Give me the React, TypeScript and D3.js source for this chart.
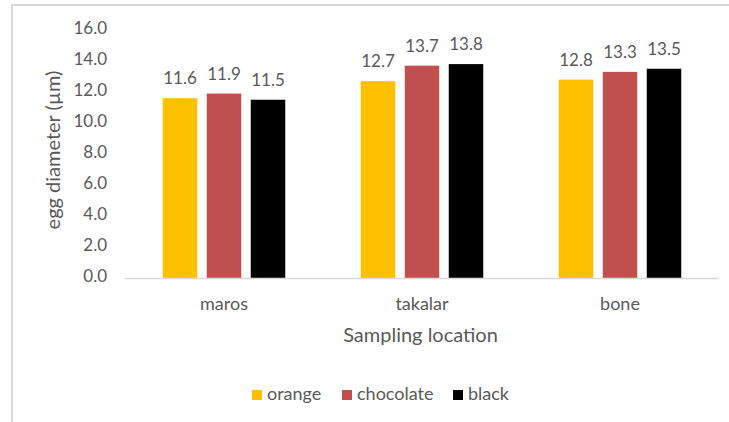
import React from "react";
import * as d3 from "d3";

const categories = ["maros", "takalar", "bone"];
const seriesNames = ["orange", "chocolate", "black"];
const orangeValues = [11.6, 12.7, 12.8];
const chocolateValues = [11.9, 13.7, 13.3];
const blackValues = [11.5, 13.8, 13.5];
const yTicks = [0, 2, 4, 6, 8, 10, 12, 14, 16];
const seriesColors = ["#FFC000", "#C0504D", "#000000"];

const W = 729;
const H = 422;
const FONT = "Lato, 'Open Sans', sans-serif";
const TEXT = "#595959";

export default function App() {
  const series = [orangeValues, chocolateValues, blackValues];

  const x0 = d3.scaleBand<string>().domain(categories).range([125, 719]).padding(0);
  const groupPad = 37.75;
  const x1 = d3
    .scaleBand<string>()
    .domain(seriesNames)
    .range([groupPad, x0.bandwidth() - groupPad])
    .paddingInner(0.216)
    .paddingOuter(0);
  const y = d3.scaleLinear().domain([0, 16]).range([278, 30]);

  // legend layout: swatch, gap, label
  const legendItems = [
    { name: seriesNames[0], x: 252 },
    { name: seriesNames[1], x: 342 },
    { name: seriesNames[2], x: 453 },
  ];

  return (
    <svg
      width={W}
      height={H}
      style={{ position: "absolute", left: 0, top: 0, background: "#fff" }}
    >
      <rect x={12} y={5} width={900} height={600} fill="#fff" stroke="#d9d9d9" strokeWidth={2} />

      {/* y tick labels */}
      {yTicks.map((t) => (
        <text
          key={t}
          x={107}
          y={y(t)}
          textAnchor="end"
          dominantBaseline="middle"
          fontFamily={FONT}
          fontSize={17}
          fill={TEXT}
        >
          {d3.format(".1f")(t)}
        </text>
      ))}

      {/* y axis title */}
      <text
        transform={`translate(55,150) rotate(-90)`}
        textAnchor="middle"
        dominantBaseline="middle"
        fontFamily={FONT}
        fontSize={20}
        fill={TEXT}
      >
        egg diameter (µm)
      </text>

      {/* bars and value labels */}
      {categories.map((c, ci) => (
        <g key={c} transform={`translate(${x0(c)},0)`}>
          {seriesNames.map((s, si) => {
            const v = series[si][ci];
            const bx = x1(s)!;
            return (
              <g key={s}>
                <rect
                  x={bx}
                  y={y(v)}
                  width={x1.bandwidth()}
                  height={y(0) - y(v)}
                  fill={seriesColors[si]}
                />
                <text
                  x={bx + x1.bandwidth() / 2}
                  y={y(v) - 14}
                  textAnchor="middle"
                  fontFamily={FONT}
                  fontSize={17}
                  fill={TEXT}
                >
                  {d3.format(".1f")(v)}
                </text>
              </g>
            );
          })}
          <text
            x={x0.bandwidth() / 2}
            y={310}
            textAnchor="middle"
            fontFamily={FONT}
            fontSize={18}
            fill={TEXT}
          >
            {c}
          </text>
        </g>
      ))}

      {/* category axis line */}
      <line x1={125} x2={719} y1={y(0) + 0.5} y2={y(0) + 0.5} stroke="#d9d9d9" strokeWidth={1.5} />

      {/* x axis title */}
      <text
        x={420.5}
        y={342}
        textAnchor="middle"
        fontFamily={FONT}
        fontSize={20}
        fill={TEXT}
      >
        Sampling location
      </text>

      {/* legend */}
      {legendItems.map((item, i) => (
        <g key={item.name} transform={`translate(${item.x},390)`}>
          <rect width={10} height={10} fill={seriesColors[i]} />
          <text
            x={15}
            y={5}
            dominantBaseline="middle"
            fontFamily={FONT}
            fontSize={18}
            fill={TEXT}
          >
            {item.name}
          </text>
        </g>
      ))}
    </svg>
  );
}
